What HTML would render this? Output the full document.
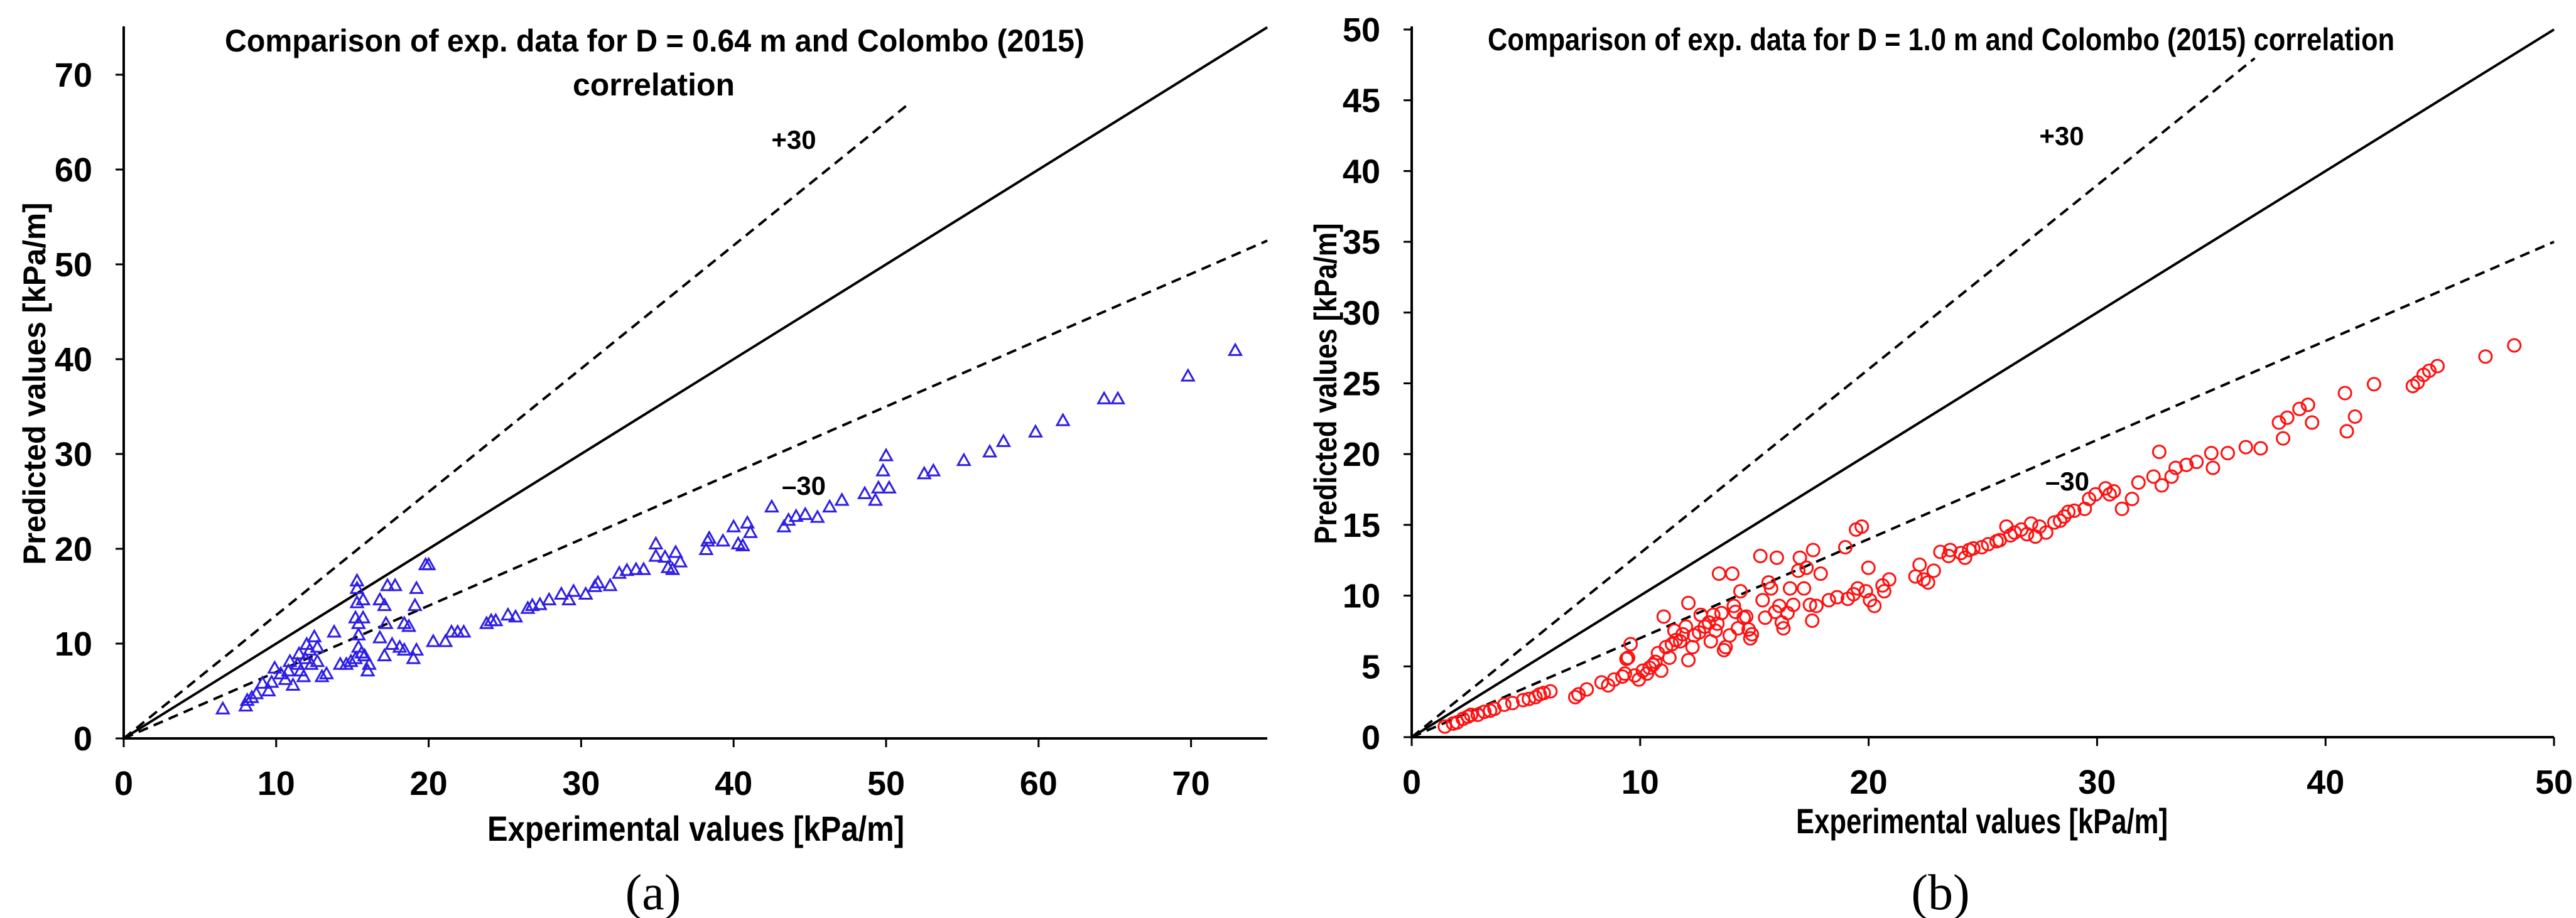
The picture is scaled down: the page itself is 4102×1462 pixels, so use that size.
<!DOCTYPE html>
<html><head><meta charset="utf-8"><style>
html,body{margin:0;padding:0;background:#fff;}
svg{display:block;}
text{font-family:"Liberation Sans Narrow","Liberation Sans",sans-serif;font-weight:bold;fill:#000;}
.yt{font-family:"Liberation Sans",sans-serif;}
.cap{font-family:"Liberation Serif",serif;font-weight:normal;}
</style></head><body>
<svg id="root" width="4102" height="1462" viewBox="0 0 4102 1462" xmlns="http://www.w3.org/2000/svg">
<g id="chartA"></g>
<g id="chartB"></g>
</svg>
<script>
// Chart A data (D = 0.64 m)
const aXTicks = [0,10,20,30,40,50,60,70];
const aYTicks = [0,10,20,30,40,50,60,70];
const aExp = [6.5,8.0,8.1,8.4,8.7,9.1,9.5,9.7,9.9,10.3,10.6,10.8,10.9,11.1,11.4,11.5,11.6,11.8,11.9,12.0,12.2,12.3,12.5,12.7,12.7,13.0,13.3,13.8,14.2,14.6,14.9,15.2,15.2,15.3,15.3,15.3,15.4,15.4,15.4,15.6,15.7,15.7,15.8,16.0,16.1,16.8,16.8,17.1,17.1,17.2,17.3,17.6,17.8,18.1,18.4,18.4,18.7,19.0,19.1,19.2,19.2,19.8,20.0,20.3,21.1,21.5,21.9,22.3,23.8,24.1,24.4,25.2,25.7,26.5,26.8,27.3,27.9,28.7,29.2,29.5,30.3,30.9,31.1,31.9,32.5,33.0,33.6,34.1,34.9,34.9,35.5,35.7,36.0,36.2,36.5,38.2,38.3,38.4,39.3,40.0,40.3,40.6,40.9,41.1,42.5,43.3,43.6,44.1,44.7,45.5,46.3,47.1,48.6,49.3,49.5,49.8,50.0,50.2,52.5,53.1,55.1,56.8,57.7,59.8,61.6,64.3,65.2,69.8,72.9];
const aPred = [3.1,3.4,4.0,4.3,4.7,5.8,5.0,5.9,7.4,6.8,6.2,7.1,8.1,5.6,7.8,8.9,7.1,6.5,8.4,9.9,9.3,7.8,10.7,9.6,8.1,6.5,6.8,11.2,7.8,7.8,8.1,8.4,12.7,15.8,16.6,14.3,12.1,10.9,9.6,9.0,14.6,12.7,8.7,7.1,7.8,14.6,10.6,14.0,8.7,12.1,16.1,9.9,16.1,9.6,9.3,12.1,11.8,8.4,14.0,15.8,9.3,18.3,18.3,10.2,10.2,11.2,11.2,11.2,12.1,12.4,12.4,13.0,12.8,13.7,14.0,14.1,14.6,15.2,14.6,15.5,15.2,16.0,16.4,16.1,17.4,17.7,17.8,17.8,20.5,19.2,19.1,18.0,17.8,19.6,18.6,19.9,20.8,21.1,20.8,22.3,20.5,20.3,22.7,21.7,24.4,22.3,23.0,23.4,23.6,23.3,24.4,25.1,25.8,25.1,26.4,28.2,29.8,26.4,27.9,28.2,29.3,30.2,31.3,32.3,33.5,35.8,35.8,38.2,40.9];

// Chart B data (D = 1.0 m)
const bXTicks = [0,10,20,30,40,50];
const bYTicks = [0,5,10,15,20,25,30,35,40,45,50];
const bExp = [1.45,1.81,1.99,2.24,2.46,2.60,2.89,3.18,3.43,3.62,4.05,4.41,4.88,5.13,5.42,5.60,5.78,6.07,7.16,7.30,7.66,8.31,8.60,8.86,9.22,9.33,9.40,9.47,9.58,9.76,9.94,10.12,10.30,10.41,10.56,10.67,10.78,10.92,11.03,11.13,11.28,11.39,11.50,11.57,11.75,11.86,12.00,12.11,12.11,12.29,12.36,12.58,12.65,12.83,13.01,13.09,13.20,13.30,13.38,13.45,13.56,13.67,13.74,13.92,14.03,14.10,14.17,14.28,14.39,14.53,14.64,14.75,14.82,14.89,15.26,15.36,15.47,15.62,15.73,15.91,15.98,16.09,16.20,16.27,16.45,16.56,16.70,16.92,16.99,17.17,17.28,17.43,17.53,17.57,17.71,17.90,18.26,18.62,18.98,19.09,19.34,19.45,19.52,19.70,19.88,19.99,20.06,20.25,20.61,20.68,20.90,22.05,22.23,22.41,22.60,22.85,23.14,23.50,23.57,24.04,24.22,24.40,24.58,24.95,25.23,25.60,25.74,26.03,26.21,26.39,26.68,26.93,27.11,27.30,27.48,27.77,28.13,28.38,28.56,28.74,29.00,29.46,29.65,29.93,30.37,30.55,30.73,31.09,31.53,31.81,32.47,32.72,32.83,33.26,33.44,33.91,34.35,35.00,35.07,35.72,36.51,37.16,37.96,38.14,38.32,38.86,39.23,39.41,40.85,40.93,41.29,42.12,43.82,44.03,44.29,44.54,44.90,47.00,48.26];
const bPred = [0.75,0.96,1.04,1.29,1.45,1.58,1.58,1.79,1.87,2.0,2.29,2.41,2.62,2.70,2.83,3.03,3.12,3.24,2.83,3.03,3.37,3.87,3.66,4.07,4.28,4.49,5.53,5.61,6.57,4.36,4.07,4.70,4.49,4.90,5.11,5.32,5.94,4.70,8.52,6.36,5.61,6.57,7.52,6.86,6.77,7.27,7.81,9.48,5.44,6.36,7.19,7.40,8.64,7.81,8.10,6.77,8.64,7.52,8.02,11.55,8.77,6.15,6.36,7.19,11.55,9.27,8.85,7.69,10.31,8.44,8.52,7.61,6.98,7.27,12.80,9.68,8.44,10.93,10.51,8.85,12.68,9.27,8.10,7.69,8.77,10.51,9.35,11.76,12.68,10.51,11.97,9.35,8.23,13.22,9.27,11.55,9.68,9.89,13.42,9.77,10.10,14.67,10.51,14.88,10.31,11.97,9.68,9.27,10.72,10.31,11.14,11.35,12.18,11.14,10.93,11.76,13.09,12.80,13.22,13.01,12.68,13.22,13.34,13.42,13.63,13.84,13.92,14.88,14.26,14.46,14.67,14.34,15.09,14.17,14.88,14.46,15.17,15.29,15.59,15.92,16.00,16.13,16.83,17.16,17.58,17.16,17.37,16.13,16.83,17.99,18.41,20.16,17.79,18.41,19.03,19.24,19.45,20.07,19.03,20.07,20.49,20.41,22.23,21.11,22.57,23.19,23.48,22.23,24.31,21.61,22.65,24.94,24.81,25.06,25.60,25.89,26.22,26.89,27.68];

const NS = 'http://www.w3.org/2000/svg';
function mk(parent, tag, attrs, txt) {
  const e = document.createElementNS(NS, tag);
  for (const k in attrs) e.setAttribute(k, attrs[k]);
  if (txt !== undefined) e.textContent = txt;
  parent.appendChild(e);
  return e;
}

function drawChart(g, cfg, xTicks, yTicks, xs, ys) {
  const sx = v => cfg.x0 + (v - 0) * (cfg.x1 - cfg.x0) / cfg.xMax;
  const sy = v => cfg.y0 - v * (cfg.y0 - cfg.y1) / cfg.yMax;
  const top = cfg.axisTop;
  const l1 = mk(g, 'line', {x1: sx(0), y1: sy(0), x2: sx(cfg.xMax), y2: sy(cfg.xMax), stroke: '#000', 'stroke-width': 4});
  
  
  const pEnd = cfg.plusEnd;
  const l2 = mk(g, 'line', {x1: sx(0), y1: sy(0), x2: sx(pEnd), y2: sy(pEnd * 1.3), stroke: '#000', 'stroke-width': 4, 'stroke-dasharray': '16 10'});
  
  
  const l3 = mk(g, 'line', {x1: sx(0), y1: sy(0), x2: sx(cfg.xMax), y2: sy(cfg.xMax * 0.7), stroke: '#000', 'stroke-width': 4, 'stroke-dasharray': '16 10'});
  
  
  for (let i = 0; i < xs.length; i++) {
    const cx = sx(xs[i]), cy = sy(ys[i]);
    let m;
    if (cfg.marker === 'tri') {
      m = mk(g, 'polygon', {points: `${cx},${cy-10} ${cx-9.5},${cy+7} ${cx+9.5},${cy+7}`, fill: 'none', stroke: '#2e1ee6', 'stroke-width': 3});
    } else {
      m = mk(g, 'circle', {cx: cx, cy: cy, r: 10, fill: 'none', stroke: '#ff1010', 'stroke-width': 3});
    }
    
    
  }
  const ax = mk(g, 'line', {x1: cfg.x0, y1: cfg.y0, x2: cfg.x1, y2: cfg.y0, stroke: '#000', 'stroke-width': 4});
  
  
  const ay = mk(g, 'line', {x1: cfg.x0, y1: cfg.y0 + 2, x2: cfg.x0, y2: top, stroke: '#000', 'stroke-width': 4});
  
  
  xTicks.forEach(v => {
    const t = mk(g, 'line', {x1: sx(v), y1: cfg.y0, x2: sx(v), y2: cfg.y0 + 14, stroke: '#000', 'stroke-width': 3});
    
    
    const lb = mk(g, 'text', {x: sx(v), y: cfg.y0 + 90, 'text-anchor': 'middle', 'font-size': 54}, String(v));
    
    
  });
  yTicks.forEach(v => {
    const t = mk(g, 'line', {x1: cfg.x0 - 13, y1: sy(v), x2: cfg.x0, y2: sy(v), stroke: '#000', 'stroke-width': 3});
    
    
    const lb = mk(g, 'text', {x: cfg.x0 - 50, y: sy(v) + 19, 'text-anchor': 'end', 'font-size': 54}, String(v));
    
    
  });
  cfg.titles.forEach(tt => {
    const e = mk(g, 'text', {x: tt.x, y: tt.y, 'font-size': 50, textLength: tt.len, lengthAdjust: 'spacingAndGlyphs'}, tt.text);
    
    
  });
  const xt = mk(g, 'text', {x: cfg.xt.x, y: cfg.xt.y, 'font-size': 56, textLength: cfg.xt.len, lengthAdjust: 'spacingAndGlyphs'}, 'Experimental values [kPa/m]');
  
  
  const yt = mk(g, 'text', {x: 0, y: 0, 'font-size': 50, 'class': 'yt', 'text-anchor': 'middle', textLength: cfg.yt.len, lengthAdjust: 'spacingAndGlyphs', transform: `translate(${cfg.yt.x},${cfg.yt.y}) rotate(-90)`}, 'Predicted values [kPa/m]');
  
  
  const p = mk(g, 'text', {x: cfg.plusLbl[0], y: cfg.plusLbl[1], 'font-size': 42, 'text-anchor': 'middle'}, '+30');
  
  
  const m = mk(g, 'text', {x: cfg.minusLbl[0], y: cfg.minusLbl[1], 'font-size': 42, 'text-anchor': 'middle'}, '\u201330');
  
  
  const c = mk(g, 'text', {x: cfg.cap[0], y: cfg.cap[1], 'font-size': 80, 'text-anchor': 'middle', 'class': 'cap'}, cfg.cap[2]);
  
  
}

drawChart(document.getElementById('chartA'), {
  x0: 197, x1: 2018, xMax: 75, y0: 1176, y1: 42, yMax: 75.1, axisTop: 42, marker: 'tri', plusEnd: 51.3,
  titles: [{x: 358, y: 82, len: 1369, text: 'Comparison of exp. data for D = 0.64 m and Colombo (2015)'},
           {x: 912, y: 152, len: 258, text: 'correlation'}],
  xt: {x: 776, y: 1339, len: 664}, yt: {x: 72, y: 611, len: 577},
  plusLbl: [1264, 237], minusLbl: [1280, 788], cap: [1040, 1448, '(a)']
}, aXTicks, aYTicks, aExp, aPred);

drawChart(document.getElementById('chartB'), {
  x0: 2248, x1: 4067, xMax: 50, y0: 1174, y1: 47, yMax: 50, axisTop: 42, marker: 'circ', plusEnd: 36.9,
  titles: [{x: 2369, y: 80, len: 1444, text: 'Comparison of exp. data for D = 1.0 m and Colombo (2015) correlation'}],
  xt: {x: 2860, y: 1327, len: 592}, yt: {x: 2128, y: 611, len: 511},
  plusLbl: [3283, 231], minusLbl: [3292, 781], cap: [3090, 1448, '(b)']
}, bXTicks, bYTicks, bExp, bPred);
</script>
</body></html>
